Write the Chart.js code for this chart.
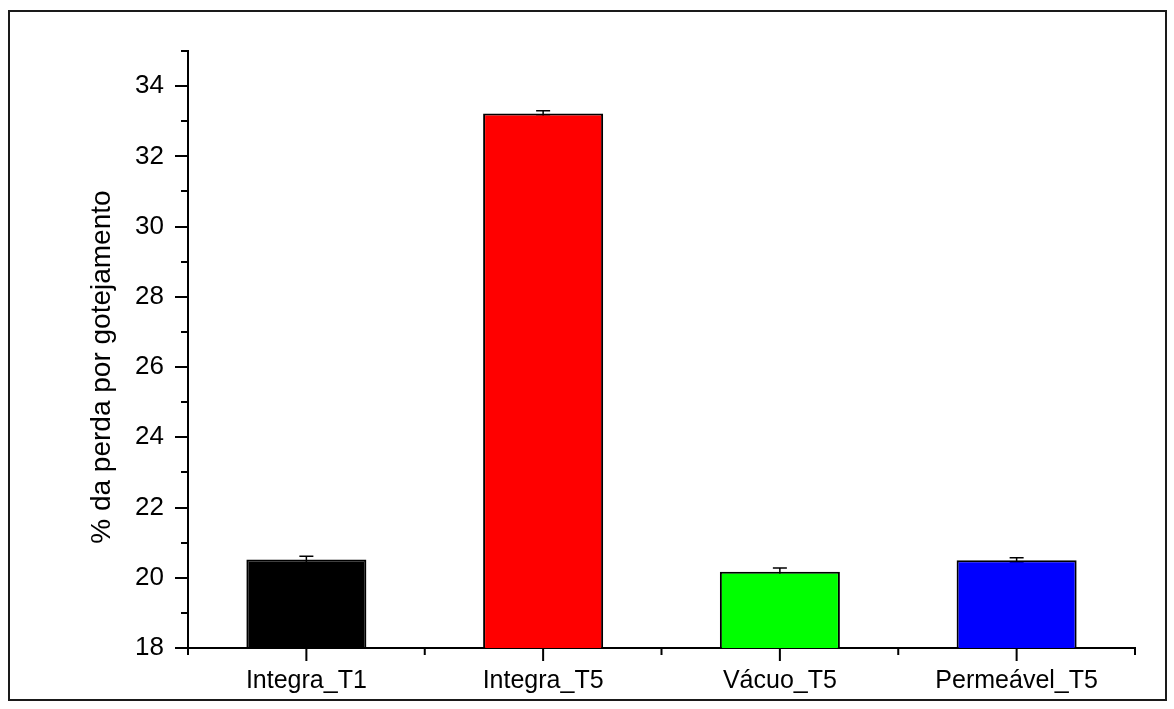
<!DOCTYPE html>
<html>
<head>
<meta charset="utf-8">
<script src="https://cdn.jsdelivr.net/npm/chart.js@4.4.1/dist/chart.umd.min.js"></script>
<style>
  html, body { margin: 0; padding: 0; background: #ffffff; }
  #wrap { width: 1174px; height: 709px; position: relative; }
</style>
</head>
<body>
<div id="wrap"><canvas id="c" width="1174" height="709"></canvas></div>
<script>
// Drip-loss results per treatment
const categories = ['Integra_T1', 'Integra_T5', 'Vácuo_T5', 'Permeável_T5'];
const lossValues = [20.52, 33.22, 20.17, 20.50];
const lossErrors = [0.09, 0.08, 0.11, 0.07];
const barColors = ['#000000', '#ff0000', '#00ff00', '#0000ff'];
const yTickValues = [18, 20, 22, 24, 26, 28, 30, 32, 34];
const yMinorValues = [19, 21, 23, 25, 27, 29, 31, 33, 35];
const yTitle = '% da perda por gotejamento';

const FONT = 'Liberation Sans, Arial, Helvetica, sans-serif';

// Outer frame around the whole figure
const framePlugin = {
  id: 'frame',
  beforeDraw(chart) {
    const ctx = chart.ctx;
    ctx.save();
    ctx.fillStyle = '#ffffff';
    ctx.fillRect(0, 0, chart.width, chart.height);
    ctx.strokeStyle = '#1a1a1a';
    ctx.lineWidth = 2;
    ctx.strokeRect(9, 11, 1157, 689);
    ctx.restore();
  }
};

// Upper error bars, drawn underneath the bars so only the part above shows
const errorBarPlugin = {
  id: 'errorBars',
  beforeDatasetsDraw(chart) {
    const ctx = chart.ctx;
    const x = chart.scales.x, y = chart.scales.y;
    ctx.save();
    ctx.strokeStyle = '#000000';
    ctx.lineWidth = 1.5;
    lossValues.forEach((v, i) => {
      const px = x.getPixelForValue(i);
      const top = y.getPixelForValue(v + lossErrors[i]);
      const bot = y.getPixelForValue(v - lossErrors[i]);
      ctx.beginPath();
      ctx.moveTo(px, bot); ctx.lineTo(px, top);
      ctx.moveTo(px - 7, top); ctx.lineTo(px + 7, top);
      ctx.moveTo(px - 7, bot); ctx.lineTo(px + 7, bot);
      ctx.stroke();
    });
    ctx.restore();
  }
};

// Outward major/minor tick marks on both axes, plus the rotated y-axis title
const tickPlugin = {
  id: 'axisTicks',
  afterDraw(chart) {
    const ctx = chart.ctx;
    const x = chart.scales.x, y = chart.scales.y;
    const area = chart.chartArea;
    ctx.save();
    ctx.strokeStyle = '#000000';
    ctx.lineWidth = 2;
    ctx.beginPath();
    yTickValues.forEach(v => {
      const py = Math.round(y.getPixelForValue(v));
      ctx.moveTo(area.left, py); ctx.lineTo(area.left - 13, py);
    });
    yMinorValues.forEach(v => {
      const py = Math.round(y.getPixelForValue(v));
      ctx.moveTo(area.left, py); ctx.lineTo(area.left - 7, py);
    });
    const centers = categories.map((_, i) => x.getPixelForValue(i));
    centers.forEach(px => {
      ctx.moveTo(px, area.bottom); ctx.lineTo(px, area.bottom + 13);
    });
    const bounds = [area.left];
    for (let i = 0; i < centers.length - 1; i++) bounds.push((centers[i] + centers[i + 1]) / 2);
    bounds.push(area.right);
    bounds.forEach(px => {
      ctx.moveTo(px, area.bottom); ctx.lineTo(px, area.bottom + 7);
    });
    ctx.stroke();

    // y-axis title, centred a little below the middle of the plot
    ctx.translate(102, y.getPixelForValue(26.0));
    ctx.rotate(-Math.PI / 2);
    ctx.fillStyle = '#000000';
    ctx.font = '28px ' + FONT;
    ctx.textAlign = 'center';
    ctx.textBaseline = 'middle';
    ctx.fillText(yTitle, 0, 0);
    ctx.restore();
  }
};

new Chart(document.getElementById('c'), {
  type: 'bar',
  data: {
    labels: categories,
    datasets: [{
      data: lossValues,
      backgroundColor: barColors,
      borderColor: '#000000',
      borderWidth: 2,
      borderSkipped: 'bottom',
      barPercentage: 0.507,
      categoryPercentage: 1.0
    }]
  },
  options: {
    responsive: false,
    animation: false,
    devicePixelRatio: 1,
    layout: { padding: { left: 0, right: 39, top: 51, bottom: 0 } },
    plugins: {
      legend: { display: false },
      tooltip: { enabled: false }
    },
    scales: {
      x: {
        type: 'category',
        offset: true,
        grid: { display: false, drawTicks: false },
        border: { display: true, color: '#000000', width: 2 },
        ticks: {
          color: '#000000',
          padding: 18,
          maxRotation: 0,
          font: { family: FONT, size: 25 }
        },
        afterFit(scale) { scale.height = 61; }
      },
      y: {
        type: 'linear',
        min: 18,
        max: 35,
        grid: { display: false, drawTicks: false },
        border: { display: true, color: '#000000', width: 2 },
        afterBuildTicks(scale) { scale.ticks = yTickValues.map(v => ({ value: v })); },
        ticks: {
          color: '#000000',
          padding: 24,
          font: { family: FONT, size: 26 }
        },
        title: { display: false },
        afterFit(scale) { scale.width = 188; }
      }
    }
  },
  plugins: [framePlugin, errorBarPlugin, tickPlugin]
});
</script>
</body>
</html>
